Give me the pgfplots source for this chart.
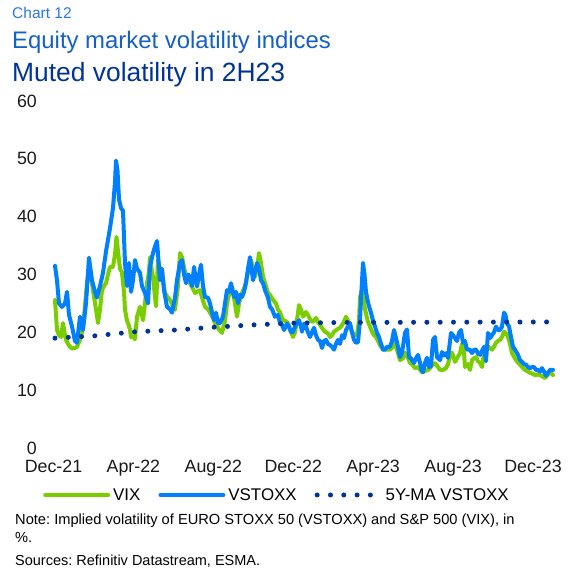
\documentclass[border=0pt]{standalone}
\usepackage{pgfplots}
\pgfplotsset{compat=1.18}
\usepackage{pgfplotstable}
\usepackage{fontspec}
\setmainfont{Liberation Sans}
\definecolor{vixgreen}{RGB}{122,206,0}
\definecolor{vsblue}{RGB}{0,127,255}
\definecolor{madark}{RGB}{0,51,153}
\definecolor{tlight}{RGB}{40,120,230}
\definecolor{tmid}{RGB}{21,96,200}
\definecolor{tdark}{RGB}{0,51,153}

% px = horizontal position (53.5 = 1 Dec 2021, 19.98 per month)
\pgfplotstableread{
px v
55 31.5
57 29
59 25
62 24.4
65 25
67 27
69 23
72 21
75 18.5
77 18.2
80 22.7
83 20.4
86 25
89 32.9
92 29
95 27
97 26
100 28
103 30.3
106 34
108 36
110 38
113 41.5
115 46
116 49.7
117.5 48
119 43
121 41.5
123 41
125 32
127 28
129 32
131 27
133 29
135 32.5
137 31
140 30.3
142 28
145 26.8
148 25
150 31.3
152 33
154 34.3
157 35.8
160 29
162 31
164 27.3
167 24.4
170 24
172 23.4
175 26
177 29
180 32
182 32.5
184 30
186 28.5
188 30
190 29.6
192 28
194 31.3
197 27.9
199 30
201 31.7
203 28
205 26.1
208 26
210 25
212 23.5
214 22.1
216 23.4
218 21.6
220 21.6
223 22.7
225 25
227 27.3
229 27
231 28.5
234 26.1
236 27
238 25
240 26.5
242 26.1
244 27
246 28.5
248 31
250 33
253 29
255 30.5
257 32
259 31
261 29
263 28.5
265 27.3
268 26
270 24.4
272 24
275 22.7
278 23
280 21.6
282 21.3
284 20.4
287 21.5
289 21
291 20
293 20.1
295 21
297 21.6
299 22.1
301 21
302 20.1
304 21.5
306 21
308 20
310 19.2
312 20
314 20.8
316 19.5
318 18.7
320 18.5
322 17.3
324 18.5
326 18.7
328 18
330 17.8
332 17.5
334 17
336 18
338 18.7
340 18
342 19.5
344 19
346 20.4
348 21
350 21.6
352 20
354 18.7
356 18.2
358 18.3
360 22.1
361.5 27.3
363 32
364.5 30
366 27
367.5 25.6
369 24.5
371 23.4
373 22
375 21
377 19.9
379 19.2
381 18
383 17
385 17
387 17.5
390 17.5
392 18.5
394 20.4
396 19
398 17.5
400 15.7
402 16.5
405 19.9
407 20.5
409 15.7
411 15.5
414 14.7
416 15.5
418 16.1
420 14.7
421.5 13.5
423 13.1
425 14.7
427 15.6
429 14
431 14.2
433 18.7
435 19.2
437 15.7
440 15.2
442 16.6
444 16
446 16.4
448 15.6
451 19.9
453 19.5
455 19
457 18.5
459 19.9
461 20.4
463 18.2
465 18.5
467 17
470 17
472 16.4
474 17
476 17
478 16.3
480 16.1
482 16.8
484 17.5
486 15
488 19.9
490 19
492 19.5
494 20
496 21
498 20.4
500 20.4
502 21
504 23.4
505.5 23
507 21.6
509 21
511 19.2
513 17.5
515 17
518 16.1
520 15.2
522 14.9
524 14.5
526 14.4
528 14
530 13.8
532 14
534 14
536 13.5
538 13.5
540 13.2
542 13.8
544 13.2
546 12.5
548 13
550 13.5
553 13.5
}\vstoxx

\pgfplotstableread{
px v
55 25.6
57 20.4
59 19.5
61 19.2
63 21.6
65 19.5
66 18.7
68 18
70 17.5
72 17.2
75 17.3
77 17.5
80 18.7
82 20
84 22.7
87 28.5
89 31
91 29.6
94 26.1
96 24
98 21.6
100 24
102 27.3
104 28
106 28.5
108 30
110 31.3
113 31.3
115 33.5
116.5 36.5
118 34
120 31
122 30.3
124 27
125 23.9
127 22
128 21.6
130 20.5
131 19.2
133 19.3
135 18.8
137 22.7
140 24.4
143 22.1
145 25
147 28.5
149 30.5
150 33
152 30.5
153 29.6
155 26.1
156 24.5
158 32.5
160 31
162 30.3
165 26.8
168 26
170 25.6
173 24.5
175 23.9
178 28
180 33.7
182 33
184 31.3
187 29
190 28.5
193 27.5
195 26.8
197 27
200 27.3
202 26
205 24.4
208 24
210 23.4
213 22.5
215 21.6
217 21
219 20.5
222 19.9
225 22
227 25
229 26.5
232 27.9
234 26
237 22.7
239 25
242 26.8
245 28
247 29.6
249 31
251 32.5
253 31
255 29.6
257 31
259 33.7
261 32
263 29.6
266 28
268 26.8
270 26.5
273 25.6
276 25
278 23.9
280 23.5
283 22.1
285 22
288 21.6
290 20.5
293 19.2
295 20
297 22.1
299 24.7
301 23.9
303 22.7
306 23.5
308 23
310 22.3
312 21.8
314 22
316 22.5
318 21.8
320 21.3
323 20.5
325 20.1
328 19.8
330 19.2
332 19.5
334 20.1
337 20.5
340 20.8
343 21.5
346 22.7
348 22
350 21
352 20
355 19.5
357 19.7
359 22
360 26.1
362 27.3
363.5 26
365 24
368 21.8
370 21
372 20.1
374 19.5
376 19.2
378 18.5
380 17.8
383 17
386 17
390 17
393 17.5
395 18.2
397 17
400 15.2
403 15.5
405 16.5
407 16
410 14.7
412 14.5
415 13.8
418 14
420 13.5
422 13.1
425 13.3
428 13.5
430 13.8
433 14.5
435 14.7
438 14
440 13.5
443 13.5
446 13.8
448 14.5
450 16.1
452 16.5
455 14.9
457 15.5
460 16.4
462 18
464 16.5
465 14
468 14.5
470 13.5
472 15.2
474 15.5
476 15.7
478 15
480 14.7
482 14
484 16.4
486 17
488 17.5
490 17.3
492 17
494 17.5
496 18.2
498 18.5
500 18.7
502 19.2
504 20.1
506 19.8
508 19.2
510 18
512 16.4
514 15.8
516 15.2
518 14.8
520 14.4
522 14
525 13.5
528 13.2
530 13
533 12.8
535 12.6
538 12.7
540 12.6
543 12.3
545 12.1
547 12.5
550 13.1
553 12.6
}\vix

\pgfplotstableread{
px v
55 19.0
95 19.4
135 20.1
175 20.4
215 20.9
255 21.3
294 21.6
340 21.7
553 21.8
}\mafive

\begin{document}
\frenchspacing
\begin{tikzpicture}
\path[use as bounding box] (0bp,0bp) rectangle (570bp,576bp);
\node[anchor=base west,inner sep=0pt,font=\fontsize{15.5bp}{18bp}\selectfont,text=tlight] at (12bp,557bp) {Chart 12};
\node[anchor=base west,inner sep=0pt,font=\fontsize{23.9bp}{28bp}\selectfont,text=tmid] at (12bp,527bp) {Equity market volatility indices};
\node[anchor=base west,inner sep=0pt,font=\fontsize{26.4bp}{30bp}\selectfont,text=tdark] at (12bp,494bp) {Muted volatility in 2H23};
\begin{axis}[
  at={(50bp,128bp)}, anchor=south west,
  scale only axis, width=506bp, height=347bp,
  xmin=-0.175, xmax=25.15, ymin=0, ymax=60,
  axis line style={draw=none}, major tick length=0pt,
  xtick={0,4,8,12,16,20,24},
  xticklabels={Dec-21,Apr-22,Aug-22,Dec-22,Apr-23,Aug-23,Dec-23},
  ytick={0,10,20,30,40,50,60},
  /pgf/number format/assume math mode=true,
  tick label style={font=\fontsize{17.8bp}{20bp}\selectfont, text=black!90},
  yticklabel style={inner sep=0pt, anchor=east, xshift=-13bp},
  xticklabel style={inner sep=0pt, anchor=north, yshift=-12bp},
  clip=false,
  legend columns=3,
  legend style={at={(-0.0138,-0.1354)}, anchor=west, draw=none, fill=none,
    inner sep=0pt, font=\fontsize{16.9bp}{19bp}\selectfont,
    /tikz/every odd column/.append style={column sep=1bp},
    /tikz/every even column/.append style={column sep=16bp}},
  legend image code/.code={\draw[#1] (0bp,0bp) -- (63bp,0bp);},
]
\addplot[vixgreen, line width=4bp, line join=round, line cap=round] table[x expr=(\thisrow{px}-53.5)/19.98, y=v] {\vix};
\addlegendentry{VIX}
\addplot[vsblue, line width=4bp, line join=round, line cap=round] table[x expr=(\thisrow{px}-53.5)/19.98, y=v] {\vstoxx};
\addlegendentry{VSTOXX}
\addplot[madark, line width=5bp, line cap=round, dash pattern=on 0bp off 13.3bp] table[x expr=(\thisrow{px}-53.5)/19.98, y=v] {\mafive};
\addlegendentry{5Y-MA VSTOXX}
\end{axis}
\node[anchor=base west,inner sep=0pt,font=\fontsize{14.65bp}{17bp}\selectfont] at (15bp,51bp) {Note: Implied volatility of EURO STOXX 50 (VSTOXX) and S\&P 500 (VIX), in};
\node[anchor=base west,inner sep=0pt,font=\fontsize{14.65bp}{17bp}\selectfont] at (15bp,34bp) {\%.};
\node[anchor=base west,inner sep=0pt,font=\fontsize{14.5bp}{17bp}\selectfont] at (15bp,11bp) {Sources: Refinitiv Datastream, ESMA.};
\end{tikzpicture}
\end{document}
